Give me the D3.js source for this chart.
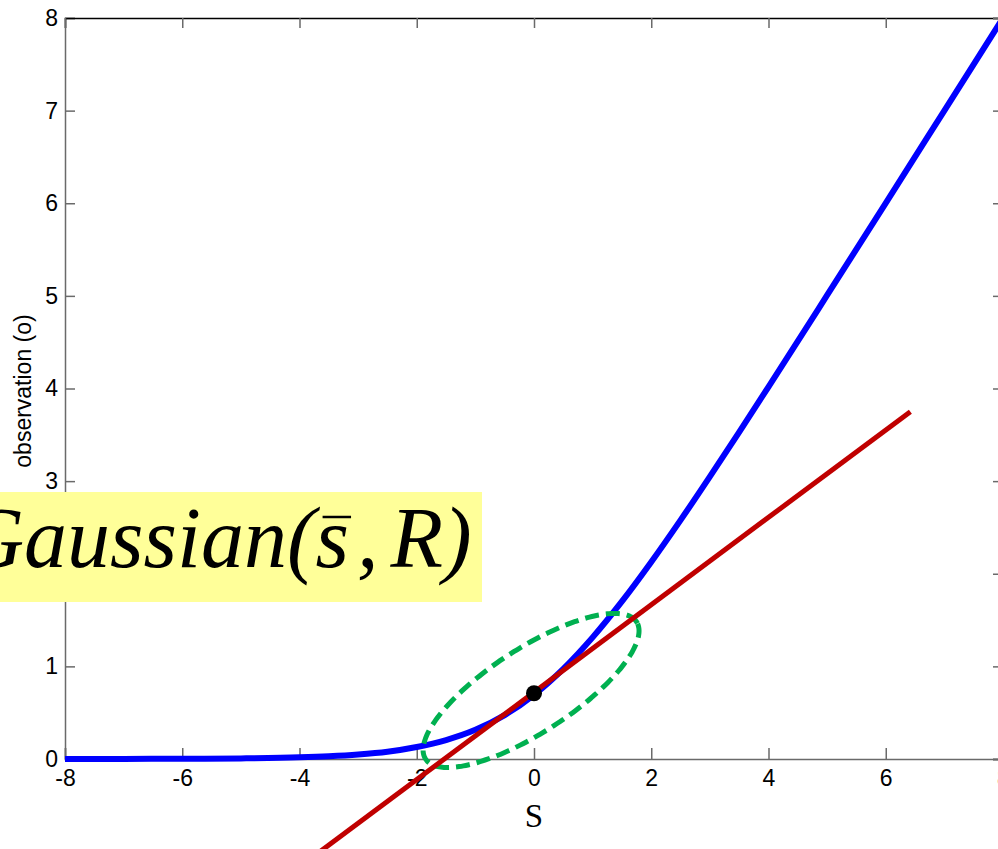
<!DOCTYPE html>
<html>
    <head>
        <meta charset="UTF-8">
        <title>Softplus observation</title>
        <script src="https://cdn.jsdelivr.net/npm/d3@7/dist/d3.min.js"></script>
        <style>
            body { margin: 0; background: #fff; }
            svg { display: block; }
        </style>
    </head>
    <body>
        <svg width="998" height="849"></svg>
        <script>
            // values
            var sVals   = [-8, -7, -6, -5, -4, -3.5, -3, -2.5, -2, -1.5, -1, -0.5, 0, 0.5, 1, 1.5, 2, 2.5, 3, 3.5, 4, 5, 6, 7, 8];
            var obsVals = [0.0003, 0.0009, 0.0025, 0.0067, 0.018, 0.030, 0.049, 0.079, 0.130, 0.205, 0.315, 0.474, 0.693, 0.974, 1.313, 1.701, 2.127, 2.579, 3.049, 3.530, 4.018, 5.007, 6.002, 7.001, 8.000];
            var tangentS = [-3.65, 6.42];
            var tangentO = [-1.0, 3.75];
            var dotS = [0];
            var dotO = [0.71];
            // ellipse: centre and the two half axes, in data units
            var ellCenter = [-0.05, 0.74];
            var ellAxisA = [1.80, 0.74];
            var ellAxisB = [0.39, -0.38];
            var xTicks = [-8, -6, -4, -2, 0, 2, 4, 6, 8];
            var yTicks = [0, 1, 2, 3, 4, 5, 6, 7, 8];

            var svg = d3.select('svg'),
                plotL = 65, plotR = 1003, plotT = 18, plotB = 759,
                sans = '"Liberation Sans", Arial, sans-serif',
                serif = '"Liberation Serif", "Times New Roman", serif';

            var x = d3.scaleLinear().domain([-8, 8]).range([plotL, plotR]),
                y = d3.scaleLinear().domain([0, 8]).range([plotB, plotT]);

            function styleAxis(ax, domainColor) {
                ax.attr('font-family', sans).attr('font-size', 23);
                ax.select('.domain').attr('stroke', domainColor).attr('stroke-width', 1.5);
                ax.selectAll('.tick line').attr('stroke', '#6a6a6a').attr('stroke-width', 1.5);
                ax.selectAll('.tick text').attr('fill', '#000');
            }

            // axes (box with inward ticks)
            var xAxis = svg.append('g')
                .attr('transform', 'translate(0,' + plotB + ')')
                .call(d3.axisBottom(x).tickValues(xTicks).tickSize(-11).tickPadding(11).tickFormat(function(d) { return d < 0 ? '-' + (-d) : d; }));
            styleAxis(xAxis, '#6a6a6a');

            var yAxis = svg.append('g')
                .attr('transform', 'translate(' + plotL + ',0)')
                .call(d3.axisLeft(y).tickValues(yTicks).tickSize(-10).tickPadding(7));
            styleAxis(yAxis, '#6a6a6a');

            var xTop = svg.append('g')
                .attr('transform', 'translate(0,' + plotT + ')')
                .call(d3.axisTop(x).tickValues(xTicks).tickSize(-10).tickFormat(''));
            styleAxis(xTop, '#000');

            var yRight = svg.append('g')
                .attr('transform', 'translate(' + plotR + ',0)')
                .call(d3.axisRight(y).tickValues(yTicks).tickSize(-10).tickFormat(''));
            styleAxis(yRight, '#000');

            svg.append('text')
                .attr('transform', 'translate(31,391) rotate(-90)')
                .style('text-anchor', 'middle')
                .style('font-family', sans)
                .style('font-size', '23px')
                .text('observation (o)');

            svg.append('text')
                .attr('x', x(0))
                .attr('y', 827)
                .style('text-anchor', 'middle')
                .style('font-family', serif)
                .style('font-size', '33px')
                .text('S');

            // softplus curve
            var curve = d3.line()
                .curve(d3.curveMonotoneX)
                .x(function(d, i) { return x(sVals[i]); })
                .y(function(d) { return y(d); });

            svg.append('path')
                .attr('d', curve(obsVals))
                .attr('fill', 'none')
                .attr('stroke', '#0000ff')
                .attr('stroke-width', 6);

            // uncertainty ellipse
            var theta = d3.range(0, 360, 3).map(function(a) { return a * Math.PI / 180; });
            var ell = d3.line()
                .x(function(t) { return x(ellCenter[0] + Math.cos(t) * ellAxisA[0] + Math.sin(t) * ellAxisB[0]); })
                .y(function(t) { return y(ellCenter[1] + Math.cos(t) * ellAxisA[1] + Math.sin(t) * ellAxisB[1]); })
                .curve(d3.curveCardinalClosed);

            svg.append('path')
                .attr('d', ell(theta))
                .attr('fill', 'none')
                .attr('stroke', '#00b050')
                .attr('stroke-width', 5)
                .attr('stroke-dasharray', '14,7');

            // tangent line
            svg.append('path')
                .attr('d', d3.line()
                    .x(function(d, i) { return x(tangentS[i]); })
                    .y(function(d) { return y(d); })(tangentO))
                .attr('fill', 'none')
                .attr('stroke', '#c00000')
                .attr('stroke-width', 5);

            svg.selectAll('.dot')
                .data(dotO)
                .enter().append('circle')
                .attr('class', 'dot')
                .attr('cx', function(d, i) { return x(dotS[i]); })
                .attr('cy', function(d) { return y(d); })
                .attr('r', 8)
                .attr('fill', '#000');

            // yellow annotation
            svg.append('rect')
                .attr('x', 0).attr('y', 492)
                .attr('width', 482).attr('height', 110)
                .attr('fill', '#ffff99');

            var g = svg.append('text')
                .attr('x', -38)
                .attr('y', 567)
                .style('font-family', serif)
                .style('font-style', 'italic')
                .style('font-size', '86px')
                .attr('fill', '#000');
            g.append('tspan').text('Gaussian(');
            g.append('tspan').text('s');
            g.append('tspan').attr('dx', 8).text(',');
            g.append('tspan').attr('dx', 12).text('R');
            g.append('tspan').text(')');

            var sBox = g.node().getExtentOfChar(9);
            svg.append('line')
                .attr('x1', sBox.x + 7).attr('x2', sBox.x + sBox.width + 2)
                .attr('y1', 517).attr('y2', 517)
                .attr('stroke', '#000').attr('stroke-width', 2.5);
        </script>
    </body>
</html>
